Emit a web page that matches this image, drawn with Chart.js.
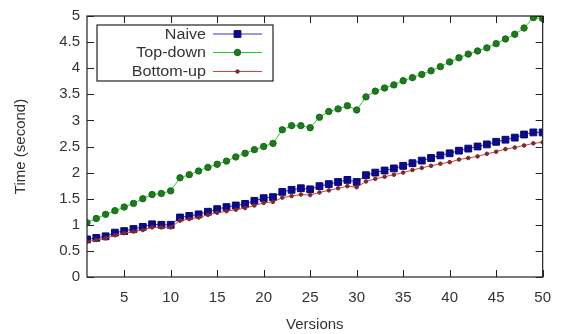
<!DOCTYPE html>
<html><head><meta charset="utf-8">
<script src="https://cdn.jsdelivr.net/npm/chart.js@4/dist/chart.umd.min.js"></script>
<style>html,body{margin:0;padding:0;background:#fff}#wrap{width:563px;height:334px}</style>
</head><body><div id="wrap"><canvas id="c" width="563" height="334"></canvas></div>
<script>
const versions = Array.from({length: 50}, (_, i) => i + 1);
const naive = [0.72,0.75,0.78,0.85,0.88,0.92,0.96,1.01,1.00,1.00,
  1.14,1.17,1.20,1.25,1.30,1.34,1.37,1.40,1.46,1.51,
  1.53,1.63,1.67,1.70,1.68,1.74,1.78,1.82,1.86,1.82,
  1.95,2.00,2.04,2.08,2.13,2.18,2.23,2.28,2.33,2.37,
  2.42,2.46,2.50,2.54,2.59,2.63,2.67,2.73,2.77,2.77];
const topDown = [1.04,1.12,1.20,1.27,1.34,1.41,1.50,1.58,1.60,1.65,
  1.90,1.96,2.03,2.10,2.16,2.22,2.30,2.37,2.44,2.50,
  2.56,2.82,2.90,2.90,2.86,3.06,3.17,3.22,3.28,3.20,
  3.45,3.56,3.62,3.68,3.76,3.82,3.88,3.95,4.03,4.12,
  4.20,4.27,4.33,4.39,4.47,4.56,4.65,4.77,4.97,4.95];
const bottomUp = [0.68,0.71,0.74,0.80,0.84,0.87,0.90,0.95,0.95,0.95,
  1.08,1.11,1.14,1.19,1.23,1.26,1.29,1.32,1.37,1.42,
  1.44,1.52,1.55,1.58,1.57,1.62,1.66,1.70,1.74,1.72,
  1.83,1.88,1.92,1.96,2.00,2.05,2.09,2.13,2.17,2.20,
  2.25,2.28,2.31,2.36,2.40,2.45,2.48,2.52,2.56,2.58];
const xTicks = [5,10,15,20,25,30,35,40,45,50];
const yTicks = [0,0.5,1,1.5,2,2.5,3,3.5,4,4.5,5];
const seriesNames = ['Naive','Top-down','Bottom-up'];

const FONT = 'Liberation Sans, Arial, sans-serif';
const TXT = '#333';

const framePlugin = {
  id: 'frame',
  afterDatasetsDraw(chart) {
    const {ctx, chartArea: a, scales: {x, y}} = chart;
    ctx.save();
    ctx.strokeStyle = '#222';
    ctx.lineWidth = 1.2;
    ctx.strokeRect(a.left, a.top, a.right - a.left, a.bottom - a.top);
    ctx.lineWidth = 1;
    ctx.beginPath();
    xTicks.forEach(v => {
      const px = Math.round(x.getPixelForValue(v)) + 0.5;
      ctx.moveTo(px, a.bottom); ctx.lineTo(px, a.bottom - 7);
      ctx.moveTo(px, a.top); ctx.lineTo(px, a.top + 7);
    });
    yTicks.forEach(v => {
      const py = Math.round(y.getPixelForValue(v)) + 0.5;
      ctx.moveTo(a.left, py); ctx.lineTo(a.left + 7, py);
      ctx.moveTo(a.right, py); ctx.lineTo(a.right - 7, py);
    });
    ctx.stroke();
    // legend
    const bx = 97, by = 25, bw = 176, bh = 56;
    ctx.fillStyle = '#fff';
    ctx.fillRect(bx, by, bw, bh);
    ctx.strokeStyle = '#222';
    ctx.lineWidth = 1.2;
    ctx.strokeRect(bx, by, bw, bh);
    const rows = [34, 52.5, 71.5];
    chart.data.datasets.forEach((ds, i) => {
      const ry = rows[i];
      ctx.save();
      ctx.translate(206, ry);
      ctx.scale(1.15, 1);
      ctx.font = '14px ' + FONT;
      ctx.fillStyle = TXT;
      ctx.textAlign = 'right';
      ctx.textBaseline = 'middle';
      ctx.fillText(ds.label, 0, 1);
      ctx.restore();
      ctx.strokeStyle = ds.borderColor;
      ctx.lineWidth = 1;
      ctx.beginPath();
      ctx.moveTo(213, ry); ctx.lineTo(262, ry);
      ctx.stroke();
      ctx.fillStyle = ds.pointBackgroundColor;
      ctx.strokeStyle = ds.pointBorderColor;
      Chart.helpers.drawPoint(ctx, {
        pointStyle: ds.pointStyle, radius: ds.pointRadius, borderWidth: 1
      }, 237.5, ry);
    });
    ctx.restore();
  }
};

new Chart(document.getElementById('c'), {
  type: 'line',
  data: {
    datasets: [
      {label: seriesNames[0], data: versions.map((v, i) => ({x: v, y: naive[i]})),
       borderColor: '#3a2fd0', borderWidth: 1, pointStyle: 'rect', pointRadius: 4.8,
       pointBackgroundColor: '#0a0a90', pointBorderColor: '#0a0a70', order: 3},
      {label: seriesNames[1], data: versions.map((v, i) => ({x: v, y: topDown[i]})),
       borderColor: '#22d022', borderWidth: 1, pointStyle: 'circle', pointRadius: 3.2,
       pointBackgroundColor: '#1f7a1f', pointBorderColor: '#1a6a1a', order: 2},
      {label: seriesNames[2], data: versions.map((v, i) => ({x: v, y: bottomUp[i]})),
       borderColor: '#e03a3a', borderWidth: 1, pointStyle: 'circle', pointRadius: 1.8,
       pointBackgroundColor: '#7a2a2a', pointBorderColor: '#7a2a2a', order: 1}
    ]
  },
  options: {
    responsive: false,
    animation: false,
    events: [],
    layout: {padding: {top: 15, right: 13, left: 0, bottom: 0}},
    plugins: {legend: {display: false}, tooltip: {enabled: false}},
    scales: {
      x: {
        type: 'linear', min: 1, max: 50,
        afterBuildTicks: s => { s.ticks = xTicks.map(v => ({value: v})); },
        afterFit: s => { s.height = 57; },
        grid: {display: false, drawTicks: false},
        border: {display: false},
        ticks: {font: {family: FONT, size: 15}, color: TXT, padding: 12, maxRotation: 0,
          callback: v => String(v)},
        title: {display: true, text: 'Versions', font: {family: FONT, size: 15}, color: TXT,
          padding: {top: 4, bottom: 0}}
      },
      y: {
        type: 'linear', min: 0, max: 5,
        afterBuildTicks: s => { s.ticks = yTicks.map(v => ({value: v})); },
        afterFit: s => { s.width = 87; },
        grid: {display: false, drawTicks: false},
        border: {display: false},
        ticks: {font: {family: FONT, size: 15}, color: TXT, padding: 7,
          callback: v => String(v)},
        title: {display: true, text: 'Time (second)', font: {family: FONT, size: 15}, color: TXT,
          padding: {top: 12, bottom: 0}}
      }
    }
  },
  plugins: [framePlugin]
});
</script>
</body></html>
